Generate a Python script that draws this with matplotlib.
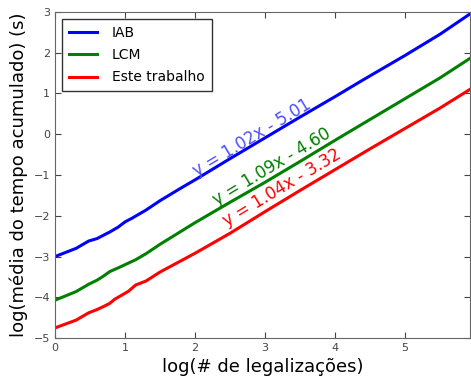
import matplotlib
matplotlib.use('Agg')
import matplotlib.pyplot as plt

# dados (log10)
x_iab = [0, 0.3, 0.48, 0.6, 0.7, 0.78, 0.9, 1.0, 1.1, 1.2, 1.3, 1.5, 1.8, 2.0, 2.5, 3.0, 3.5, 4.0, 4.4, 5.0, 5.5, 5.93]
y_iab = [-3.0, -2.8, -2.62, -2.56, -2.47, -2.4, -2.28, -2.15, -2.06, -1.96, -1.86, -1.63, -1.32, -1.12, -0.6, -0.09, 0.42, 0.92, 1.33, 1.93, 2.45, 2.95]

x_lcm = [0, 0.3, 0.48, 0.6, 0.7, 0.78, 0.9, 1.0, 1.15, 1.3, 1.5, 2.0, 2.5, 3.0, 3.5, 4.0, 4.5, 5.0, 5.5, 5.93]
y_lcm = [-4.07, -3.86, -3.68, -3.58, -3.47, -3.37, -3.28, -3.2, -3.08, -2.93, -2.7, -2.17, -1.67, -1.18, -0.67, -0.15, 0.36, 0.87, 1.38, 1.86]

x_este = [0, 0.3, 0.48, 0.6, 0.7, 0.78, 0.85, 0.95, 1.05, 1.15, 1.3, 1.5, 2.0, 2.5, 3.0, 3.5, 4.0, 4.5, 5.0, 5.5, 5.93]
y_este = [-4.75, -4.56, -4.38, -4.3, -4.22, -4.15, -4.05, -3.95, -3.85, -3.7, -3.6, -3.38, -2.92, -2.43, -1.9, -1.38, -0.87, -0.36, 0.14, 0.64, 1.1]

series = [
    ('IAB', x_iab, y_iab, 'b'),
    ('LCM', x_lcm, y_lcm, 'g'),
    ('Este trabalho', x_este, y_este, 'r'),
]

# equações de ajuste (texto, posição x, posição y, cor)
fit_labels = ['y = 1.02x - 5.01', 'y = 1.09x - 4.60', 'y = 1.04x - 3.32']
fit_x = [2.81, 3.1, 3.24]
fit_y = [-0.09, -0.8, -1.32]
fit_colors = ['#4d4dff', 'g', 'r']

fig = plt.figure(figsize=(4.71, 3.82), dpi=100)
ax = fig.add_axes([0.117, 0.115, 0.881, 0.854])

for label, xs, ys, c in series:
    ax.plot(xs, ys, color=c, lw=2.2, label=label)

for txt, tx, ty, c in zip(fit_labels, fit_x, fit_y, fit_colors):
    ax.text(tx, ty, txt, color=c, fontsize=12, rotation=31,
            ha='center', va='center', rotation_mode='anchor')

ax.set_xlim(0, 5.93)
ax.set_ylim(-5, 3)
ax.set_xticks([0, 1, 2, 3, 4, 5])
ax.set_yticks(range(-5, 4))
ax.tick_params(direction='in', top=True, right=True, labelsize=8,
               colors='#444444', length=4)
for s in ax.spines.values():
    s.set_color('#666666')

ax.set_xlabel('log(# de legalizações)', fontsize=13)
ax.set_ylabel('log(média do tempo acumulado) (s)', fontsize=13)

leg = ax.legend(loc='upper left', fontsize=10, fancybox=False,
                handlelength=2.0, handletextpad=1.1, borderpad=0.5,
                labelspacing=0.6)
leg.get_frame().set_edgecolor('black')

fig.savefig('out.png', dpi=100)
